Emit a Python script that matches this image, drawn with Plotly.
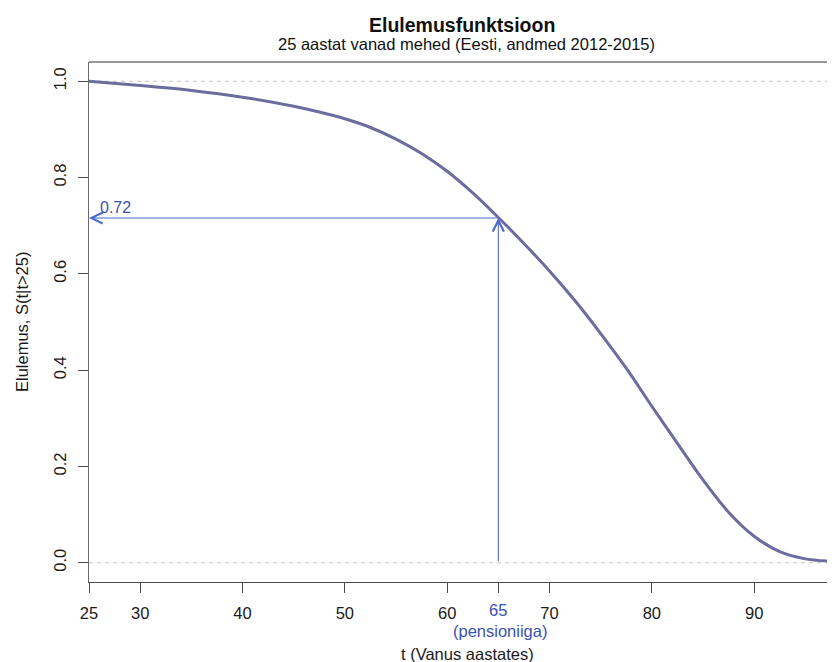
import plotly.graph_objects as go

# ---- data ----
ages = [25, 30, 35, 40, 45, 47.5, 50, 52.5, 55, 57.5, 60, 62.5, 65, 67.5, 70,
        72.5, 75, 77.5, 80, 82.5, 85, 87.5, 90, 92.5, 95, 97.5, 100]
survival = [1.000, 0.991, 0.981, 0.967, 0.948, 0.936, 0.922, 0.904, 0.880,
            0.850, 0.813, 0.768, 0.717, 0.663, 0.606, 0.544, 0.476, 0.404,
            0.325, 0.248, 0.172, 0.105, 0.055, 0.023, 0.008, 0.003, 0.001]
x_ticks = [25, 30, 40, 50, 60, 70, 80, 90]
y_ticks = [0.0, 0.2, 0.4, 0.6, 0.8, 1.0]
pension_age = 65
pension_surv = 0.716
ref_levels = [0.0, 1.0]

title = "Elulemusfunktsioon"
subtitle = "25 aastat vanad mehed (Eesti, andmed 2012-2015)"
x_title = "t (Vanus aastates)"
y_title = "Elulemus, S(t|t>25)"
pension_note = "(pensioniiga)"

CURVE = "#6C6C9F"
BLUE = "#4A69D2"
BLUE_TXT = "#3A52B4"
AXIS = "#4A4A4A"
FONT = "Liberation Sans, Arial, sans-serif"

fig = go.Figure()

fig.add_trace(go.Scatter(
    x=ages, y=survival, mode="lines",
    line=dict(color=CURVE, width=3, shape="spline", smoothing=0.9),
    hoverinfo="skip", showlegend=False))

# dashed reference lines
for lv in ref_levels:
    fig.add_shape(type="line", xref="paper", x0=0, x1=1, yref="y", y0=lv, y1=lv,
                  line=dict(color="#C4C4C4", width=1, dash="4px,4px"), layer="below")

# top frame line
fig.add_shape(type="line", xref="paper", x0=0, x1=1, yref="paper", y0=1, y1=1,
              line=dict(color="#333333", width=1.2))

annotations = []
# vertical arrow from (65, 0) up to the curve
annotations.append(dict(x=pension_age, y=pension_surv, xref="x", yref="y",
                        ax=pension_age, ay=0, axref="x", ayref="y",
                        showarrow=True, arrowhead=5, arrowsize=2.0, arrowwidth=1.1,
                        arrowcolor=BLUE, text="", standoff=0))
# horizontal arrow from the curve to the y axis
annotations.append(dict(x=x_ticks[0], y=pension_surv, xref="x", yref="y",
                        ax=pension_age, ay=pension_surv, axref="x", ayref="y",
                        showarrow=True, arrowhead=5, arrowsize=2.0, arrowwidth=1.1,
                        arrowcolor=BLUE, text="", standoff=0))
# value label
annotations.append(dict(x=x_ticks[0], y=pension_surv, xref="x", yref="y",
                        text=f"{pension_surv:.2f}", showarrow=False,
                        xanchor="left", yanchor="middle", xshift=9, yshift=11,
                        font=dict(family=FONT, size=16, color=BLUE_TXT)))
# blue tick label for pension age
annotations.append(dict(x=pension_age, y=0, xref="x", yref="paper",
                        text=str(pension_age), showarrow=False,
                        xanchor="center", yanchor="middle", yshift=-28,
                        font=dict(family=FONT, size=16.5, color=BLUE_TXT)))
annotations.append(dict(x=pension_age, y=0, xref="x", yref="paper",
                        text=pension_note, showarrow=False,
                        xanchor="center", yanchor="middle", yshift=-49, xshift=2,
                        font=dict(family=FONT, size=16.5, color=BLUE_TXT)))
# axis titles
annotations.append(dict(x=0.5, y=0, xref="paper", yref="paper", text=x_title,
                        showarrow=False, xanchor="center", yanchor="middle",
                        yshift=-72, xshift=5,
                        font=dict(family=FONT, size=16.5, color="#1a1a1a")))
annotations.append(dict(x=0, y=0.5, xref="paper", yref="paper", text=y_title,
                        showarrow=False, xanchor="center", yanchor="middle",
                        xshift=-67, textangle=-90,
                        font=dict(family=FONT, size=16.5, color="#1a1a1a")))
# titles
annotations.append(dict(x=0.5, y=1, xref="paper", yref="paper",
                        text=f"<b>{title}</b>", showarrow=False,
                        xanchor="center", yanchor="middle", yshift=37,
                        font=dict(family=FONT, size=19.5, color="#111111")))
annotations.append(dict(x=0.5, y=1, xref="paper", yref="paper",
                        text=subtitle, showarrow=False,
                        xanchor="center", yanchor="middle", yshift=18, xshift=4,
                        font=dict(family=FONT, size=16.5, color="#111111")))

# the page body adds an 8px offset, so the figure is sized to fill the window
fig.update_layout(
    width=827, height=654,
    margin=dict(l=81, r=0, t=54, b=80),
    paper_bgcolor="white", plot_bgcolor="white",
    showlegend=False,
    annotations=annotations,
    font=dict(family=FONT, size=16.5, color="#1a1a1a"),
)

fig.update_xaxes(
    range=[25, 97.9], tickmode="array",
    tickvals=x_ticks + [pension_age],
    ticktext=[str(t) for t in x_ticks] + [""],
    ticks="outside", ticklen=10, tickwidth=1.2, tickcolor=AXIS,
    showline=True, linecolor=AXIS, linewidth=1.2,
    showgrid=False, zeroline=False,
    tickfont=dict(family=FONT, size=16.5, color="#1a1a1a"),
    ticklabelstandoff=6,
)
fig.update_yaxes(
    range=[-0.04, 1.04], tickmode="array",
    tickvals=y_ticks, ticktext=[f"{v:.1f}" for v in y_ticks],
    ticks="outside", ticklen=10, tickwidth=1.2, tickcolor=AXIS,
    showline=True, linecolor="#6A6A6A", linewidth=1.2,
    showgrid=False, zeroline=False, tickangle=-90,
    tickfont=dict(family=FONT, size=16.5, color="#1a1a1a"),
    ticklabelstandoff=5,
)

fig.write_html("out.html")
